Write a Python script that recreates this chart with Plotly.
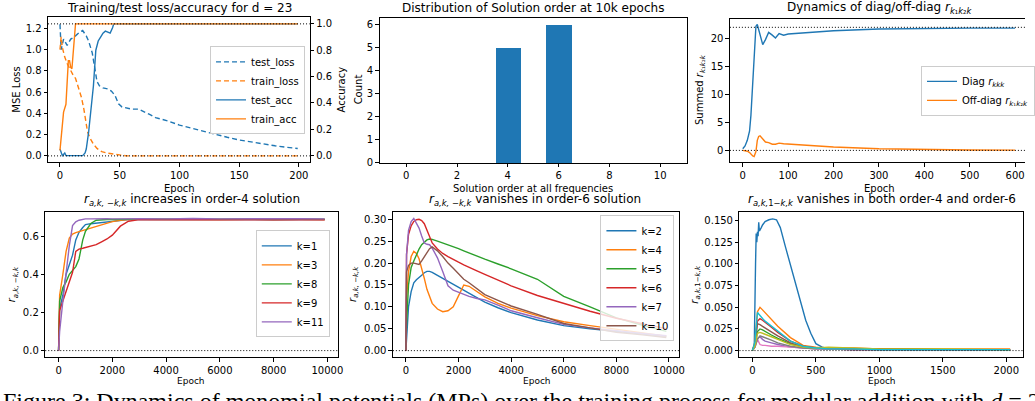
import plotly.graph_objects as go

FONT = "DejaVu Sans"
SERIF = "Liberation Serif"
W, H = 1035, 401
BLUE, ORANGE, GREEN, RED, PURPLE = "#1f77b4", "#ff7f0e", "#2ca02c", "#d62728", "#9467bd"
BROWN, PINK, GRAY, OLIVE, CYAN = "#8c564b", "#e377c2", "#7f7f7f", "#bcbd22", "#17becf"

# ---------------- panel 1: loss / accuracy for d = 23 ----------------
test_loss_epoch = [0, 1, 3, 6, 9, 12, 16, 19, 22, 24, 27, 29, 31, 33, 36, 40, 43, 46, 49, 52,
                   55, 60, 66, 70, 75, 80, 90, 100, 110, 120, 130, 140, 150, 160, 170, 180, 190, 199]
test_loss = [1.24, 1.0, 1.10, 1.04, 1.10, 1.12, 1.16, 1.18, 1.13, 1.08, 0.97, 0.82, 0.70, 0.66,
             0.64, 0.63, 0.61, 0.57, 0.49, 0.46, 0.45, 0.44, 0.44, 0.42, 0.39, 0.36, 0.33, 0.29,
             0.26, 0.23, 0.20, 0.175, 0.15, 0.13, 0.11, 0.095, 0.08, 0.07]
train_loss_epoch = [0, 1, 2, 4, 6, 9, 11, 13, 16, 18, 20, 21, 23, 25, 28, 31, 35, 40, 45, 50,
                    55, 60, 100, 150, 199]
train_loss = [1.0, 1.12, 1.02, 0.93, 0.87, 0.80, 0.76, 0.73, 0.63, 0.55, 0.44, 0.36, 0.23, 0.17,
              0.11, 0.07, 0.04, 0.025, 0.015, 0.005, 0.001, 0.0, 0.0, 0.0, 0.0]
test_acc_epoch = [0, 2, 4, 5, 10, 15, 19, 21, 22, 24, 26, 28, 30, 32, 34, 36, 38, 40, 42, 44,
                  45, 100, 150, 199]
test_acc = [0.05, 0.0, 0.02, 0.0, 0.0, 0.0, 0.0, 0.02, 0.05, 0.18, 0.36, 0.53, 0.80, 0.87, 0.90,
            0.93, 0.945, 0.94, 0.93, 0.97, 1.0, 1.0, 1.0, 1.0]
train_acc_epoch = [0, 1, 2, 3, 5, 6, 7, 8, 9, 10, 11, 12, 13, 14, 100, 199]
train_acc = [0.04, 0.15, 0.24, 0.33, 0.39, 0.57, 0.72, 0.72, 0.67, 0.66, 0.80, 0.92, 1.0, 1.0, 1.0, 1.0]

# ---------------- panel 2: distribution of solution order ----------------
solution_order = [0, 1, 2, 3, 4, 5, 6, 7, 8, 9, 10]
order_count = [0, 0, 0, 0, 5, 0, 6, 0, 0, 0, 0]

# ---------------- panel 3: diag / off-diag dynamics ----------------
diag_epoch = [0, 5, 10, 15, 18, 22, 25, 29, 32, 35, 38, 44, 50, 57, 65, 72, 80, 90, 100, 130,
              200, 300, 400, 500, 600]
diag_r = [0.3, 0.8, 1.8, 3.5, 6.3, 12.0, 18.0, 22.2, 22.5, 21.6, 20.3, 18.9, 19.8, 21.1, 20.6,
          20.1, 20.9, 20.6, 20.8, 21.0, 21.4, 21.7, 21.8, 21.85, 21.85]
offdiag_r = [0.0, -0.05, -0.15, -0.4, -0.7, -1.0, -1.1, -0.2, 1.8, 2.5, 2.6, 2.0, 1.5, 1.4, 1.1,
             1.1, 1.3, 1.2, 1.15, 1.0, 0.6, 0.3, 0.15, 0.08, 0.05]
DIAG_TARGET = 22

# ---------------- panel 4: r_{a,k,-k,k} in the order-4 solution ----------------
order4_epoch = [0, 40, 160, 280, 400, 520, 640, 760, 900, 1000, 1200, 1400, 1600, 1800, 2000,
                2300, 2600, 3000, 4000, 5000, 6000, 7000, 8000, 9000, 9900]
order4_k1 = [0, 0.22, 0.29, 0.40, 0.45, 0.50, 0.58, 0.62, 0.645, 0.66, 0.665, 0.668, 0.672, 0.675,
             0.678, 0.682, 0.686, 0.687, 0.686, 0.688, 0.686, 0.687, 0.685, 0.687, 0.686]
order4_k3 = [0, 0.29, 0.40, 0.52, 0.59, 0.61, 0.618, 0.623, 0.63, 0.635, 0.645, 0.652, 0.66, 0.668,
             0.676, 0.683, 0.687, 0.688, 0.687, 0.689, 0.687, 0.688, 0.686, 0.688, 0.687]
order4_k8 = [0, 0.26, 0.33, 0.36, 0.40, 0.42, 0.44, 0.48, 0.58, 0.625, 0.666, 0.683, 0.686, 0.687,
             0.687, 0.688, 0.687, 0.689, 0.688, 0.689, 0.687, 0.689, 0.688, 0.689, 0.688]
order4_k9 = [0, 0.21, 0.26, 0.31, 0.36, 0.41, 0.52, 0.532, 0.536, 0.54, 0.545, 0.555, 0.57, 0.585,
             0.605, 0.652, 0.678, 0.686, 0.685, 0.687, 0.685, 0.686, 0.684, 0.686, 0.685]
order4_k11 = [0, 0.10, 0.26, 0.40, 0.55, 0.655, 0.675, 0.683, 0.688, 0.69, 0.69, 0.691, 0.69,
              0.691, 0.69, 0.691, 0.69, 0.691, 0.69, 0.692, 0.69, 0.691, 0.69, 0.691, 0.69]

# ---------------- panel 5: r_{a,k,-k,k} in the order-6 solution ----------------
order6_epoch = [0, 25, 100, 200, 300, 400, 500, 600, 700, 800, 900, 1000, 1200, 1400, 1600, 1800,
                2000, 2200, 2400, 2700, 3000, 3500, 4000, 5000, 6000, 7000, 8000, 9000, 9900]
order6_k2 = [0, 0.03, 0.10, 0.135, 0.155, 0.162, 0.166, 0.172, 0.178, 0.181, 0.181, 0.179, 0.172,
             0.165, 0.158, 0.151, 0.144, 0.137, 0.13, 0.12, 0.111, 0.098, 0.087, 0.070, 0.057,
             0.050, 0.044, 0.038, 0.033]
order6_k4 = [0, 0.12, 0.18, 0.215, 0.227, 0.222, 0.21, 0.19, 0.165, 0.14, 0.123, 0.108, 0.095,
             0.089, 0.091, 0.10, 0.125, 0.15, 0.147, 0.135, 0.123, 0.108, 0.097, 0.080, 0.066,
             0.057, 0.049, 0.040, 0.033]
order6_k5 = [0, 0.06, 0.15, 0.19, 0.205, 0.22, 0.232, 0.242, 0.248, 0.253, 0.255, 0.254, 0.25,
             0.246, 0.242, 0.238, 0.233, 0.228, 0.223, 0.216, 0.209, 0.198, 0.187, 0.163, 0.124,
             0.10, 0.075, 0.058, 0.044]
order6_k6 = [0, 0.22, 0.265, 0.285, 0.295, 0.299, 0.300, 0.297, 0.29, 0.275, 0.258, 0.246, 0.232,
             0.222, 0.215, 0.208, 0.202, 0.196, 0.19, 0.182, 0.174, 0.161, 0.148, 0.126, 0.108,
             0.09, 0.074, 0.061, 0.050]
order6_k7 = [0, 0.22, 0.275, 0.295, 0.302, 0.29, 0.28, 0.262, 0.246, 0.243, 0.242, 0.234, 0.212,
             0.181, 0.148, 0.138, 0.133, 0.128, 0.124, 0.119, 0.116, 0.104, 0.091, 0.075, 0.060,
             0.052, 0.045, 0.039, 0.034]
order6_k10 = [0, 0.18, 0.195, 0.2, 0.2, 0.198, 0.197, 0.205, 0.215, 0.225, 0.233, 0.237, 0.228,
              0.215, 0.2, 0.188, 0.175, 0.163, 0.155, 0.142, 0.128, 0.115, 0.102, 0.083, 0.062,
              0.052, 0.042, 0.036, 0.030]

# ---------------- panel 6: r_{a,k,1-k,k} ----------------
cross_epoch_main = [0, 15, 25, 30, 35, 40, 45, 50, 55, 60, 70, 80, 100, 130, 160, 190, 220, 260,
                    300, 340, 380, 420, 460, 500, 550, 600, 700, 800, 1000, 1200, 1500, 1800, 2030]
cross_main = [0, 0.005, 0.10, 0.135, 0.125, 0.137, 0.132, 0.148, 0.138, 0.14, 0.142, 0.145, 0.149,
              0.151, 0.152, 0.151, 0.142, 0.12, 0.098, 0.076, 0.054, 0.035, 0.02, 0.008, 0.004,
              0.002, 0.002, 0.002, 0.0015, 0.0015, 0.001, 0.001, 0.001]
cross_epoch = [0, 20, 40, 60, 80, 100, 150, 200, 300, 400, 500, 600, 800, 1000, 1500, 2030]
cross_orange = [0, 0.01, 0.045, 0.05, 0.047, 0.044, 0.036, 0.028, 0.015, 0.006, 0.004, 0.003, 0.003, 0.002, 0.002, 0.002]
cross_green = [0, 0.006, 0.022, 0.025, 0.024, 0.022, 0.018, 0.014, 0.008, 0.004, 0.003, 0.002, 0.002, 0.002, 0.001, 0.001]
cross_red = [0, 0.008, 0.034, 0.037, 0.035, 0.033, 0.027, 0.021, 0.011, 0.005, 0.003, 0.002, 0.002, 0.002, 0.001, 0.001]
cross_purple = [0, 0.004, 0.014, 0.016, 0.013, 0.011, 0.009, 0.007, 0.004, 0.003, 0.002, 0.002, 0.001, 0.001, 0.001, 0.001]
cross_brown = [0, 0.007, 0.031, 0.03, 0.028, 0.026, 0.021, 0.017, 0.009, 0.004, 0.003, 0.002, 0.002, 0.001, 0.001, 0.001]
cross_pink = [0, 0.004, 0.013, 0.007, 0.006, 0.006, 0.005, 0.005, 0.004, 0.003, 0.002, 0.002, 0.001, 0.001, 0.001, 0.001]
cross_gray = [0, 0.004, 0.013, 0.017, 0.016, 0.015, 0.012, 0.009, 0.005, 0.003, 0.002, 0.002, 0.001, 0.001, 0.001, 0.001]
cross_olive = [0, 0.005, 0.02, 0.021, 0.02, 0.019, 0.016, 0.013, 0.007, 0.004, 0.003, 0.004, 0.003, 0.002, 0.002, 0.001]
cross_cyan = [0, 0.01, 0.044, 0.04, 0.037, 0.034, 0.028, 0.022, 0.011, 0.005, 0.003, 0.002, 0.002, 0.001, 0.001, 0.001]


def xd(x0, x1):
    return [x0 / W, min(x1 / W, 1.0)]


def yd(top, bottom):
    return [1 - bottom / H, 1 - top / H]


def axis(domain, rng, dtick, fmt=None, mirror=True, anchor=None):
    d = dict(domain=domain, range=rng, tickmode="linear", tick0=0, dtick=dtick,
             showgrid=False, zeroline=False, showline=True, linecolor="black", linewidth=1,
             mirror=mirror, ticks="outside", ticklen=3.5, tickwidth=1, tickcolor="black",
             exponentformat="none", separatethousands=False,
             tickfont=dict(family=FONT, size=10, color="black"))
    d["tickformat"] = fmt if fmt else "d"
    if anchor:
        d["anchor"] = anchor
    return d


fig = go.Figure()
LW = 1.4


def line(x, y, color, xa, ya, name=None, dash=None, legend=None, showlegend=False):
    fig.add_trace(go.Scatter(x=x, y=y, mode="lines", name=name, xaxis=xa, yaxis=ya,
                             line=dict(color=color, width=LW, dash=dash),
                             legend=legend, showlegend=showlegend))


# panel 1
line(test_loss_epoch, test_loss, BLUE, "x", "y", "test_loss", "5px,3px", "legend", True)
line(train_loss_epoch, train_loss, ORANGE, "x", "y", "train_loss", "5px,3px", "legend", True)
line(test_acc_epoch, test_acc, BLUE, "x", "y7", "test_acc", None, "legend", True)
line(train_acc_epoch, train_acc, ORANGE, "x", "y7", "train_acc", None, "legend", True)

# panel 2
fig.add_trace(go.Bar(x=solution_order, y=order_count, width=1, xaxis="x2", yaxis="y2",
                     marker=dict(color=BLUE, line=dict(width=0)), showlegend=False))

# panel 3
line(diag_epoch, diag_r, BLUE, "x3", "y3", "Diag <i>r</i><sub><i>kkk</i></sub>", None, "legend2", True)
line(diag_epoch, offdiag_r, ORANGE, "x3", "y3",
     "Off-diag <i>r</i><sub><i>k</i>₁<i>k</i>₂<i>k</i></sub>", None, "legend2", True)

# panel 4
for vals, col, lab in [(order4_k1, BLUE, "k=1"), (order4_k3, ORANGE, "k=3"), (order4_k8, GREEN, "k=8"),
                       (order4_k9, RED, "k=9"), (order4_k11, PURPLE, "k=11")]:
    line(order4_epoch, vals, col, "x4", "y4", lab, None, "legend3", True)

# panel 5
for vals, col, lab in [(order6_k2, BLUE, "k=2"), (order6_k4, ORANGE, "k=4"), (order6_k5, GREEN, "k=5"),
                       (order6_k6, RED, "k=6"), (order6_k7, PURPLE, "k=7"), (order6_k10, BROWN, "k=10")]:
    line(order6_epoch, vals, col, "x5", "y5", lab, None, "legend4", True)

# panel 6
line(cross_epoch_main, cross_main, BLUE, "x6", "y6")
for vals, col in [(cross_orange, ORANGE), (cross_green, GREEN), (cross_red, RED), (cross_purple, PURPLE),
                  (cross_brown, BROWN), (cross_pink, PINK), (cross_gray, GRAY), (cross_olive, OLIVE),
                  (cross_cyan, CYAN)]:
    line(cross_epoch, vals, col, "x6", "y6")

# reference lines
DOT = dict(color="black", width=1, dash="1px,2px")
shapes = []
for xr, yr, val in [("x", "y", 0), ("x", "y7", 1), ("x3", "y3", 0), ("x3", "y3", DIAG_TARGET),
                    ("x4", "y4", 0), ("x5", "y5", 0), ("x6", "y6", 0)]:
    shapes.append(dict(type="line", xref=f"{xr} domain", yref=yr, x0=0, x1=1, y0=val, y1=val,
                       line=DOT, layer="above"))

TOP = yd(17.5, 164.3)
BOT = yd(215, 361.7)

layout = dict(
    width=W, height=H, margin=dict(l=0, r=0, t=0, b=0),
    paper_bgcolor="white", plot_bgcolor="white", bargap=0,
    font=dict(family=FONT, size=10, color="black"),
    xaxis=axis(xd(48.5, 312.7), [-10, 209], 50, anchor="y"),
    yaxis=axis(TOP, [-0.06, 1.305], 0.2, ".1f", anchor="x"),
    yaxis7=dict(axis(TOP, [-0.05, 1.05], 0.2, ".1f", mirror=False, anchor="x"),
                overlaying="y", side="right"),
    xaxis2=axis(xd(383.3, 693.5), [-1.05, 11.05], 2, anchor="y2"),
    yaxis2=axis(yd(18.3, 165), [0, 6.3], 1, anchor="x2"),
    xaxis3=axis(xd(737, 1035), [-28.4, 621.8], 100, anchor="y3"),
    yaxis3=axis(yd(19, 164.3), [-2.12, 23.53], 5, mirror=False, anchor="x3"),
    xaxis4=axis(xd(45.7, 341.3), [-495, 10395], 2000, anchor="y4"),
    yaxis4=axis(BOT, [-0.0345, 0.7245], 0.2, ".1f", anchor="x4"),
    xaxis5=axis(xd(396.7, 686), [-495, 10395], 2000, anchor="y5"),
    yaxis5=axis(BOT, [-0.015, 0.316], 0.05, ".2f", anchor="x5"),
    xaxis6=axis(xd(746.7, 1033), [-101.5, 2131.5], 500, anchor="y6"),
    yaxis6=axis(BOT, [-0.0076, 0.1596], 0.025, ".3f", anchor="x6"),
    shapes=shapes,
)

LEG = dict(font=dict(family=FONT, size=10, color="black"), bgcolor="rgba(255,255,255,0.8)",
           bordercolor="#cccccc", borderwidth=1, itemwidth=30, tracegroupgap=0,
           xref="paper", yref="paper")
layout["legend"] = dict(LEG, x=308 / W, xanchor="right", y=1 - 91.5 / H, yanchor="middle")
layout["legend2"] = dict(LEG, x=930 / W, xanchor="left", y=1 - 92 / H, yanchor="middle")
layout["legend3"] = dict(LEG, x=333 / W, xanchor="right", y=1 - 287.5 / H, yanchor="middle")
layout["legend4"] = dict(LEG, x=681 / W, xanchor="right", y=1 - 218 / H, yanchor="top")

fig.update_layout(**layout)


def text(s, xpx, ypx, size=10, angle=0, family=FONT, xanchor="center", yanchor="middle"):
    fig.add_annotation(text=s, x=xpx / W, y=1 - ypx / H, xref="paper", yref="paper",
                       showarrow=False, textangle=angle, xanchor=xanchor, yanchor=yanchor,
                       font=dict(family=family, size=size, color="black"))


# titles
TS = 12
text("Training/test loss/accuracy for d = 23", 181, 8, TS)
text("Distribution of Solution order at 10k epochs", 538.5, 8, TS)
text("Dynamics of diag/off-diag <i>r</i><sub><i>k</i>₁<i>k</i>₂<i>k</i></sub>", 888, 8, TS)
text("<i>r</i><sub><i>a,k,</i> −<i>k,k</i></sub> increases in order-4 solution", 193.5, 203, TS)
text("<i>r</i><sub><i>a,k,</i> −<i>k,k</i></sub> vanishes in order-6 solution", 540, 203, TS)
text("<i>r</i><sub><i>a,k,</i>1−<i>k,k</i></sub> vanishes in both order-4 and order-6", 891, 203, TS)

# axis titles
text("Epoch", 181, 191)
text("Solution order at all frequencies", 538, 191)
text("Epoch", 888, 191)
text("MSE Loss", 17, 91, angle=-90)
text("Accuracy", 345, 91, angle=-90)
text("Count", 362, 91, angle=-90)
text("Summed <i>r</i><sub><i>k</i>₁<i>k</i>₂<i>k</i></sub>", 708, 91, angle=-90)
text("Epoch", 193, 385.5, 9)
text("Epoch", 542, 385.5, 9)
text("Epoch", 891, 385.5, 9)
text("<i>r</i><sub><i>a,k,</i> −<i>k,k</i></sub>", 13, 288, 10, angle=-90)
text("<i>r</i><sub><i>a,k,</i> −<i>k,k</i></sub>", 357, 288, 10, angle=-90)
text("<i>r</i><sub><i>a,k,</i>1−<i>k,k</i></sub>", 702, 288, 10, angle=-90)

# figure caption
text("Figure 3: Dynamics of monomial potentials (MPs) over the training process for modular "
     "addition with <i>d</i> = 23.", 1, 391, 24, family=SERIF, xanchor="left", yanchor="top")

fig.write_html("out.html")
